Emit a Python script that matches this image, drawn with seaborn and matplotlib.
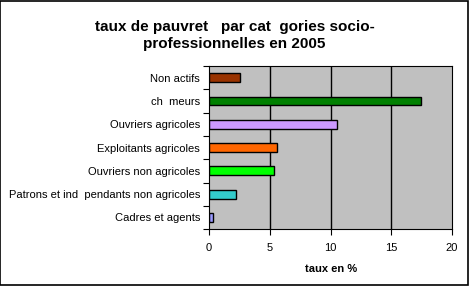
import matplotlib
matplotlib.use("Agg")
import matplotlib.pyplot as plt
import seaborn as sns
import pandas as pd
import numpy as np
from matplotlib.patches import Rectangle

categories = ["Non actifs", "ch  meurs", "Ouvriers agricoles", "Exploitants agricoles",
              "Ouvriers non agricoles", "Patrons et ind  pendants non agricoles", "Cadres et agents"]
values = [2.5, 17.45, 10.55, 5.55, 5.35, 2.2, 0.33]
colors = ["#993300", "#008000", "#CC99FF", "#FF6600", "#00FF00", "#33CCCC", "#9999FF"]
xticks = [0, 5, 10, 15, 20]

sns.set_theme(style="white")
plt.rcParams['font.family'] = ['Liberation Sans', 'DejaVu Sans']
plt.rcParams['text.color'] = 'black'
plt.rcParams['axes.labelcolor'] = 'black'
plt.rcParams['xtick.color'] = 'black'
plt.rcParams['ytick.color'] = 'black'

df = pd.DataFrame({"cat": categories, "val": values})

fig = plt.figure(figsize=(4.69, 2.86), dpi=100)
ax = fig.add_axes([0.446, 0.199, 0.518, 0.570])
sns.barplot(data=df, x="val", y="cat", hue="cat", palette=colors, legend=False,
            orient="h", width=0.38, edgecolor="black", linewidth=1.0, ax=ax, saturation=1)

ax.set_facecolor("#C0C0C0")
ax.set_xlim(0, 20)
ax.set_ylim(6.5, -0.5)
ax.set_xticks(xticks)
ax.set_xticklabels([str(t) for t in xticks], fontsize=8)
for t in xticks[1:-1]:
    ax.axvline(t, color="black", linewidth=1.0, zorder=0.5)
ax.set_yticks(range(len(categories)))
ax.set_yticklabels(categories, fontsize=8)
ax.set_yticks(np.arange(-0.5, len(categories), 1.0), minor=True)
ax.tick_params(axis="y", which="major", length=0, pad=6.5)
ax.tick_params(axis="y", which="minor", length=4, width=0.8, color="black", left=True)
ax.tick_params(axis="x", which="major", length=4, width=0.8, color="black", bottom=True, pad=6)
for s in ax.spines.values():
    s.set_color("black")
    s.set_linewidth(0.8)
ax.set_ylabel("")
ax.set_xlabel("taux en %", fontsize=8, fontweight="bold", labelpad=8, color="black")

fig.text(0.5, 0.93, "taux de pauvret   par cat  gories socio-\nprofessionnelles en 2005",
         ha="center", va="top", fontsize=11, fontweight="bold", linespacing=1.25, color="black")

fig.patches.append(Rectangle((0.001, 0.002), 0.996, 0.994, transform=fig.transFigure,
                             fill=False, edgecolor="black", linewidth=1.2))

fig.savefig("out.png", dpi=100)
